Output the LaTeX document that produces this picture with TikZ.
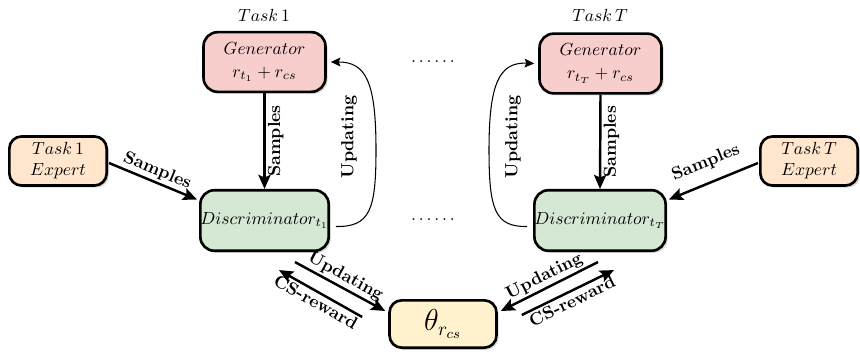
\documentclass[tikz,border=0pt]{standalone}
\usetikzlibrary{shadows,arrows.meta,calc}
\definecolor{genfill}{HTML}{F8CECC}
\definecolor{discfill}{HTML}{D5E8D4}
\definecolor{expfill}{HTML}{FFE6CC}
\definecolor{thfill}{HTML}{FFF2CC}
\begin{document}
\begin{tikzpicture}[x=0.57pt,y=-0.57pt,
  box/.style={draw=black, line width=1.5pt, rounded corners=8pt, align=center, inner sep=0pt,
    drop shadow={shadow xshift=1.2pt,shadow yshift=-1.2pt,opacity=0.3}},
  genbox/.style={box, fill=genfill, minimum width=69.5pt, minimum height=34pt},
  discbox/.style={box, fill=discfill, minimum width=69.5pt, minimum height=34.5pt},
  expbox/.style={box, fill=expfill, minimum width=55.5pt, minimum height=28pt, rounded corners=7pt},
  thbox/.style={box, fill=thfill, minimum width=61pt, minimum height=27pt, rounded corners=7pt},
  thickarr/.style={line width=1.4pt, -{Stealth[length=8pt,width=7pt,inset=1.5pt]}},
  thinarr/.style={line width=0.6pt, -{Stealth[length=5.5pt,width=5pt,inset=1pt]}},
  lbl/.style={font=\bfseries, inner sep=1.2pt}
]
\useasboundingbox (0,0) rectangle (860,352);

\node (t1) at (264,15) {$Task\,1$};
\node (tT) at (600,15) {$Task\,T$};
\node[genbox] (g1) at (264.5,62) {$Generator$\\[1pt]$r_{t_1}+r_{cs}$};
\node[genbox] (gT) at (600.5,63.5) {$Generator$\\[1pt]$r_{t_T}+r_{cs}$};
\node[discbox] (d1) at (264.5,220.5) {$Discriminator_{t_1}$};
\node[discbox] (dT) at (600,220.5) {$Discriminator_{t_T}$};
\node[expbox] (e1) at (58,161) {$Task\,1$\\$Expert$};
\node[expbox] (eT) at (809,161) {$Task\,T$\\$Expert$};
\node[thbox] (th) at (443,324) {\fontsize{16}{18}\selectfont$\theta_{r_{cs}}$};

\node (dots1) at (433,62) {$\ldots\ldots$};
\node (dots2) at (433,220) {$\ldots\ldots$};

% generator -> discriminator
\draw[thickarr] (g1.south) -- node[midway, rotate=90, anchor=north, lbl] {Samples} (d1.north);
\draw[thickarr] (gT.south) -- node[midway, rotate=90, anchor=north, lbl] {Samples} (dT.north);

% experts -> discriminators
\draw[thickarr] ([shift={(1,2)}]e1.east) -- node[midway, sloped, above, lbl] {Samples} ([shift={(-2,-21)}]d1.west);
\draw[thickarr] ([shift={(-1,2)}]eT.west) -- node[midway, sloped, above=5pt, lbl] {Samples} ([shift={(2,-21)}]dT.east);

% updating curves
\draw[thinarr] ([shift={(6,6)}]d1.east) .. controls (370,227) and (376,210) .. (376,150)
   .. controls (376,82) and (366,62) .. ([shift={(4,0)}]g1.east);
\node[lbl, rotate=90] (u1) at (349,137) {Updating};
\draw[thinarr] ([shift={(-6,6)}]dT.west) .. controls (495,227) and (489,210) .. (489,150)
   .. controls (489,84) and (499,62) .. ([shift={(-4,0)}]gT.west);
\node[lbl, rotate=90] (uT) at (513,137) {Updating};

% bottom left
\draw[thickarr] ([shift={(-35,10)}]d1.south east) -- node[midway, sloped, above, lbl] {Updating} ([shift={(-3,12)}]th.north west);
\draw[thickarr] ([shift={(-26,18)}]th.north west) -- node[midway, sloped, below, lbl] {CS-reward} ([shift={(-51,18)}]d1.south east);

% bottom right
\draw[thickarr] ([shift={(-69,10)}]dT.south east) -- node[midway, sloped, above, lbl] {Updating} ([shift={(3,12)}]th.north east);
\draw[thickarr] ([shift={(24,16)}]th.north east) -- node[midway, sloped, below, lbl] {CS-reward} ([shift={(-53,18)}]dT.south east);
\end{tikzpicture}
\end{document}
